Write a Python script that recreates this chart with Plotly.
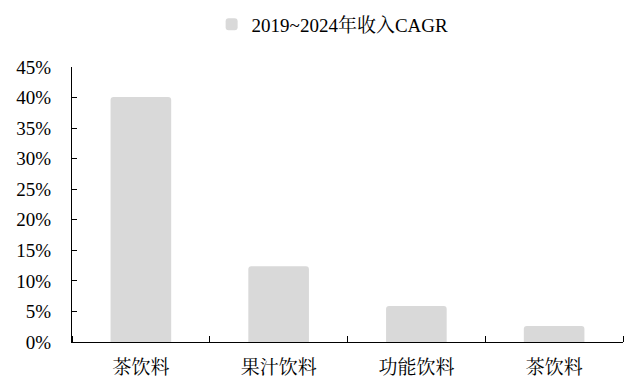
import plotly.graph_objects as go

# CAGR of revenue by beverage category, 2019-2024
categories = ["茶饮料", "果汁饮料", "功能饮料", "茶饮料"]
cagr = [0.401, 0.124, 0.059, 0.026]
series_name = "2019~2024年收入CAGR"
y_ticks = [0, 0.05, 0.10, 0.15, 0.20, 0.25, 0.30, 0.35, 0.40, 0.45]

FONT = "Times New Roman, Liberation Serif, Noto Serif CJK SC, Noto Sans CJK SC, serif"
positions = list(range(len(categories)))

fig = go.Figure()
fig.add_trace(go.Bar(
    x=positions,
    y=cagr,
    name=series_name,
    width=0.44,
    marker=dict(color="#d9d9d9", line=dict(width=0)),
    showlegend=True,
))

fig.update_layout(
    width=635,
    height=381,
    margin=dict(l=72, r=12, t=67, b=39, autoexpand=False),
    paper_bgcolor="white",
    plot_bgcolor="white",
    font=dict(family=FONT, size=19, color="#000000"),
    barcornerradius=3,
    showlegend=True,
    legend=dict(
        orientation="h",
        x=0.473, xanchor="center",
        y=1.155, yanchor="middle",
        font=dict(family=FONT, size=19, color="#000000"),
        itemwidth=30,
        bgcolor="rgba(0,0,0,0)",
    ),
    xaxis=dict(
        range=[-0.5, len(categories) - 0.5],
        tickmode="array",
        tickvals=positions,
        ticktext=categories,
        ticks="",
        showline=True,
        linecolor="#000000",
        linewidth=1,
        showgrid=False,
        zeroline=False,
        fixedrange=True,
        ticklabelstandoff=8,
        minor=dict(
            tickvals=[p - 0.5 for p in positions] + [positions[-1] + 0.5],
            ticks="inside",
            ticklen=6,
            tickcolor="#000000",
            tickwidth=1,
            showgrid=False,
        ),
        tickfont=dict(family=FONT, size=19, color="#000000"),
    ),
    yaxis=dict(
        range=[0, 0.45],
        tickmode="array",
        tickvals=y_ticks,
        tickformat=".0%",
        ticks="inside",
        ticklen=5,
        tickcolor="#000000",
        showline=True,
        linecolor="#000000",
        linewidth=1,
        showgrid=False,
        zeroline=False,
        ticklabelstandoff=16,
        tickfont=dict(family=FONT, size=19, color="#000000"),
    ),
)

fig.write_html("out.html")
